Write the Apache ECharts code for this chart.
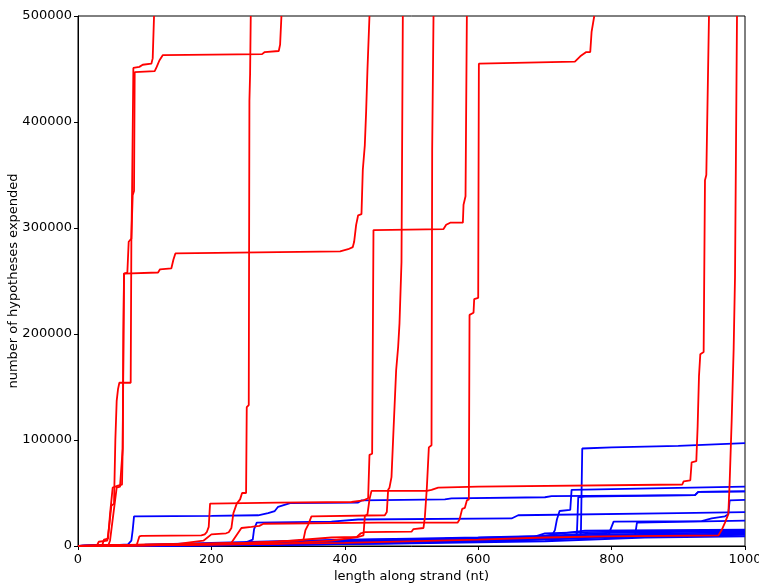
<!DOCTYPE html>
<html>
<head>
<meta charset="utf-8">
<script src="https://cdn.jsdelivr.net/npm/echarts@6/dist/echarts.min.js"></script>
<style>html,body{margin:0;padding:0;background:#fff}#c{width:759px;height:583px}</style>
</head>
<body>
<div id="c"></div>
<script>
// x ticks / y ticks
const xTicks = [0, 200, 400, 600, 800, 1000];
const yTicks = [0, 100000, 200000, 300000, 400000, 500000];

// Red curves: [length (nt), hypotheses expended]
const red1 = [[0,0],[28,0],[31,4000],[44,5000],[47,20000],[50,38000],[54,40000],[56,100000],[58,137000],[60,148000],[62,154000],[79,154000],[80,287000],[81,331000],[83,451000],[92,452000],[97,454000],[110,455000],[112,460000],[114,500000]];
const red2 = [[0,0],[36,0],[39,6000],[45,7000],[48,30000],[52,55000],[60,57000],[66,58000],[67,92000],[68,200000],[69,257000],[74,258000],[76,287000],[80,290000],[82,331000],[84,335000],[85,447000],[115,448000],[118,452000],[122,458000],[127,463000],[276,464000],[280,466000],[301,467000],[303,473000],[305,500000]];
const red3 = [[0,0],[45,0],[48,5000],[58,55000],[63,56000],[67,92000],[69,257000],[120,258000],[123,261000],[140,262000],[143,270000],[146,276000],[393,278000],[405,280000],[412,282000],[414,287000],[417,303000],[420,312000],[425,313000],[427,355000],[430,378000],[432,410000],[434,450000],[437,500000]];
const red4 = [[0,0],[150,2000],[188,5000],[200,11000],[222,12000],[226,13000],[230,17000],[233,31000],[238,40000],[243,44000],[246,50000],[252,50000],[253,131000],[256,133000],[257,420000],[258,445000],[259,500000]];
const red5 = [[0,0],[60,0],[88,1000],[92,9000],[95,9500],[185,10000],[190,11000],[193,13000],[196,18000],[198,40000],[300,41000],[410,41500],[428,43000],[435,45000],[437,86000],[441,87000],[443,298000],[548,299000],[552,303000],[558,305000],[577,305000],[578,322000],[581,330000],[583,500000]];
const red6 = [[0,0],[250,3000],[330,5000],[338,6000],[341,15000],[345,20000],[350,28000],[460,29000],[463,32000],[465,53000],[467,55000],[470,65000],[473,109000],[477,166000],[480,188000],[482,210000],[485,268000],[487,500000]];
const red7 = [[0,0],[200,1500],[300,4000],[380,8000],[418,8500],[424,12000],[430,13000],[500,13500],[503,16000],[518,17000],[520,27000],[523,55000],[526,93000],[530,95000],[531,374000],[533,500000]];
const red8 = [[0,0],[150,1000],[230,3000],[245,17000],[260,18000],[272,19000],[278,21000],[450,22000],[569,22000],[572,25000],[576,35000],[580,36000],[583,43000],[586,44000],[587,218000],[593,220000],[594,233000],[600,234000],[601,455000],[745,457000],[753,462000],[762,466000],[768,466000],[770,485000],[774,500000]];
const red9 = [[0,0],[300,2000],[380,5000],[420,8500],[428,10000],[430,28000],[434,30000],[437,44000],[440,52000],[523,52000],[530,53000],[540,55000],[600,56000],[906,58000],[908,61000],[918,62000],[920,79000],[927,80000],[929,113000],[931,160000],[933,181000],[938,183000],[940,345000],[942,350000],[946,500000]];
const red10 = [[0,0],[400,3000],[600,6000],[700,8000],[790,9000],[960,10000],[965,15000],[970,22000],[975,30000],[977,60000],[980,118000],[983,186000],[985,253000],[988,500000]];

// Blue curves
const blue1 = [[0,0],[50,500],[75,1500],[80,5000],[82,15000],[84,28000],[200,28500],[270,29000],[285,31000],[295,33000],[300,37000],[318,40500],[420,41000],[425,43000],[550,44000],[560,45000],[700,46000],[710,47000],[925,48000],[930,51000],[1000,51500]];
const blue2 = [[0,0],[150,1000],[250,3000],[262,6000],[264,16000],[268,22000],[380,23000],[420,25000],[650,26000],[660,29000],[900,31000],[1000,32000]];
const blue3 = [[0,0],[300,2000],[500,4000],[600,6000],[700,8000],[750,9000],[754,12000],[756,92000],[800,93000],[900,94500],[1000,97000]];
const blue4 = [[0,0],[300,1800],[500,3800],[600,5500],[710,9000],[715,15000],[718,25000],[722,33000],[738,34000],[740,53000],[1000,56000]];
const blue5 = [[0,0],[300,1500],[500,3500],[650,6500],[745,9000],[748,12000],[750,46000],[760,46500],[925,48000],[930,51000],[1000,51500]];
const blue6 = [[0,0],[300,1200],[500,3000],[700,7000],[795,9000],[798,15000],[803,23000],[935,23500],[950,26000],[970,28000],[975,30000],[977,43000],[1000,43500]];
const blue7 = [[0,0],[300,1000],[500,2800],[700,6500],[835,9000],[838,22000],[1000,24000]];
const blue8 = [[0,0],[100,800],[200,2000],[300,3500],[400,5000],[500,6000],[600,7000],[680,8000],[700,12000],[760,13000],[1000,15000]];
const blue9 = [[0,0],[100,500],[200,1500],[300,2800],[400,4000],[500,5000],[600,6500],[700,8000],[720,9500],[800,11000],[1000,13000]];
const blue10 = [[0,0],[150,800],[300,2000],[450,3500],[600,5500],[700,7000],[800,10000],[1000,12000]];
const blue11 = [[0,0],[200,700],[400,2500],[600,4500],[700,6000],[800,8500],[1000,10500]];
const blue12 = [[0,0],[250,800],[500,2500],[700,4500],[850,8000],[1000,9000]];
const blue13 = [[0,0],[100,1200],[200,3000],[300,4500],[400,6000],[500,7000],[600,8000],[700,9500],[800,12500],[1000,14000]];
const blue14 = [[0,0],[120,1000],[250,2500],[400,5500],[550,7000],[690,9000],[760,14500],[1000,15500]];
const blue15 = [[0,0],[200,1500],[350,3800],[500,5500],[650,7500],[780,9000],[1000,11000]];

const reds = [red1, red2, red3, red4, red5, red6, red7, red8, red9, red10];
const blues = [blue1, blue2, blue3, blue4, blue5, blue6, blue7, blue8, blue9, blue10, blue11, blue12, blue13, blue14, blue15];

const font = 'DejaVu Sans';
const series = [];
blues.forEach(d => series.push({type:'line', data:d, showSymbol:false, symbol:'none', lineStyle:{color:'#0000ff', width:1.8}, clip:true, z:2}));
reds.forEach(d => series.push({type:'line', data:d, showSymbol:false, symbol:'none', lineStyle:{color:'#ff0000', width:1.8}, clip:true, z:3}));

const chart = echarts.init(document.getElementById('c'), null, {renderer:'canvas'});
chart.setOption({
  animation: false,
  backgroundColor: '#ffffff',
  grid: {left: 78, right: 14, top: 16, bottom: 37, containLabel: false, outerBoundsMode: 'none', show: true, borderColor: '#000', borderWidth: 1, backgroundColor: 'transparent'},
  xAxis: {
    type: 'value', min: xTicks[0], max: xTicks[xTicks.length-1], interval: 200,
    name: 'length along strand (nt)', nameLocation: 'middle', nameGap: 24, nameMoveOverlap: false,
    nameTextStyle: {fontFamily: font, fontSize: 13, color: '#000'},
    axisLine: {show: true, lineStyle: {color: '#000', width: 1}},
    axisTick: {show: true, inside: false, length: 4, lineStyle: {color: '#000'}},
    axisLabel: {fontFamily: font, fontSize: 13, color: '#000', margin: 7, formatter: v => String(v)},
    splitLine: {show: false}
  },
  yAxis: {
    type: 'value', min: yTicks[0], max: yTicks[yTicks.length-1], interval: 100000,
    name: 'number of hypotheses expended', nameLocation: 'middle', nameGap: 58, nameMoveOverlap: false,
    nameTextStyle: {fontFamily: font, fontSize: 13, color: '#000'},
    axisLine: {show: true, lineStyle: {color: '#000', width: 1}},
    axisTick: {show: true, inside: false, length: 4, lineStyle: {color: '#000'}},
    axisLabel: {fontFamily: font, fontSize: 13, color: '#000', margin: 6, formatter: v => String(v)},
    splitLine: {show: false}
  },
  series: series
});
</script>
</body>
</html>
